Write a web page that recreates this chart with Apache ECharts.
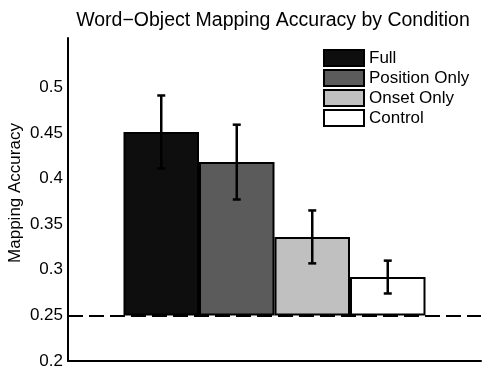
<!DOCTYPE html>
<html>
<head>
<meta charset="utf-8">
<script src="https://cdn.jsdelivr.net/npm/echarts@6/dist/echarts.min.js"></script>
<style>
  html, body { margin: 0; padding: 0; background: #fff; }
  #chart { width: 490px; height: 372px; }
</style>
</head>
<body>
<div id="chart"></div>
<script>
const conditions = ['Full', 'Position Only', 'Onset Only', 'Control'];
const means = [0.451, 0.418, 0.336, 0.292];
const errors = [0.040, 0.041, 0.029, 0.018];
const fills = ['#0e0e0e', '#5b5b5b', '#c0c0c0', '#ffffff'];
const yTicks = [0.2, 0.25, 0.3, 0.35, 0.4, 0.45, 0.5];
const chance = 0.25;

const font = 'Liberation Sans, Arial, Helvetica, sans-serif';
const barWidth = 75.5;

const chart = echarts.init(document.getElementById('chart'));

let series = [];
conditions.forEach((name, i) => {
  // invisible base so each bar starts at chance level
  series.push({
    type: 'bar',
    name: 'base-' + name,
    stack: name,
    data: [chance],
    barWidth: barWidth,
    barGap: '0%',
    silent: true,
    itemStyle: { color: 'rgba(0,0,0,0)', borderWidth: 0 },
    markLine: i === 0 ? {
      silent: true,
      symbol: 'none',
      label: { show: false },
      lineStyle: { color: '#000', width: 2, type: [15, 6] },
      data: [{ yAxis: chance }]
    } : undefined
  });
  series.push({
    type: 'bar',
    name: name,
    stack: name,
    data: [means[i] - chance],
    barWidth: barWidth,
    barGap: '0%',
    itemStyle: { color: fills[i], borderColor: '#000', borderWidth: 2 }
  });
});

series.push({
  type: 'custom',
  name: 'errors',
  data: means.map((m, i) => [0, m, errors[i], i]),
  encode: { x: 0, y: 1 },
  z: 5,
  renderItem: (params, api) => {
    const mean = api.value(1);
    const err = api.value(2);
    const idx = api.value(3);
    const hi = api.coord([0, mean + err]);
    const lo = api.coord([0, mean - err]);
    const x = hi[0] + (idx - (conditions.length - 1) / 2) * barWidth;
    const cap = 4;
    const style = { stroke: '#000', lineWidth: 2.5 };
    return {
      type: 'group',
      children: [
        { type: 'line', shape: { x1: x, y1: hi[1], x2: x, y2: lo[1] }, style: style },
        { type: 'line', shape: { x1: x - cap, y1: hi[1], x2: x + cap, y2: hi[1] }, style: style },
        { type: 'line', shape: { x1: x - cap, y1: lo[1], x2: x + cap, y2: lo[1] }, style: style }
      ]
    };
  }
});

let option = {
  backgroundColor: '#fff',
  animation: false,
  textStyle: { fontFamily: font, color: '#000' },
  title: {
    text: 'Word\u2212Object Mapping Accuracy by Condition',
    left: 268,
    top: 6,
    textAlign: 'center',
    textStyle: { fontFamily: font, fontSize: 19.5, fontWeight: 'normal', color: '#000' }
  },
  legend: {
    orient: 'vertical',
    left: 318,
    top: 44,
    data: conditions,
    icon: 'rect',
    itemWidth: 40,
    itemHeight: 16,
    itemGap: 2,
    itemStyle: { borderColor: '#000', borderWidth: 2 },
    textStyle: { fontFamily: font, fontSize: 17, lineHeight: 17, color: '#000' }
  },
  grid: { left: 68, right: 9, top: 38, bottom: 11, outerBoundsMode: 'none' },
  xAxis: {
    type: 'category',
    data: [''],
    axisLine: { onZero: false, lineStyle: { color: '#000', width: 2 } },
    axisTick: { show: false },
    axisLabel: { show: false },
    splitLine: { show: false }
  },
  yAxis: {
    type: 'value',
    min: 0.2,
    max: 0.554,
    name: 'Mapping Accuracy',
    nameLocation: 'middle',
    nameGap: 44,
    nameMoveOverlap: false,
    nameTextStyle: { fontFamily: font, fontSize: 17, color: '#000', padding: [0, 0, 0, 13] },
    axisLine: { show: true, lineStyle: { color: '#000', width: 2 } },
    axisTick: { show: false },
    splitLine: { show: false },
    axisLabel: {
      customValues: yTicks,
      margin: 5,
      fontFamily: font,
      fontSize: 17,
      color: '#000',
      formatter: (v) => String(v)
    }
  },
  series: series
};

chart.setOption(option);
</script>
</body>
</html>
